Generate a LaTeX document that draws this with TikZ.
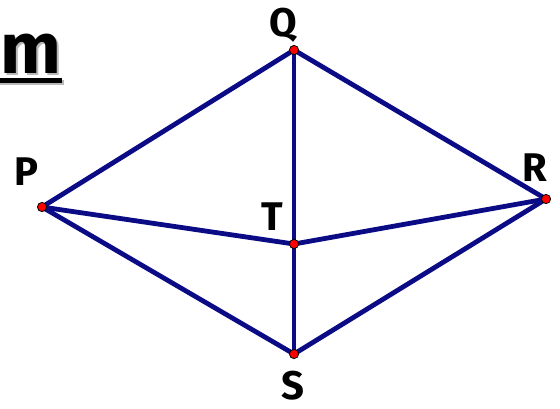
\documentclass[tikz,border=0pt]{standalone}
\usepackage{fontspec}
\setsansfont{Fira Sans}
\usepackage{tikz}
\usetikzlibrary{positioning}
\definecolor{kitenavy}{HTML}{0B0B85}
\definecolor{dotred}{HTML}{FF0000}
\definecolor{shadowgray}{HTML}{B8B8B8}

\tikzset{
  edge/.style={kitenavy, line width=2.4pt, line join=round, line cap=round},
  vertex/.style={fill=dotred, draw=black, line width=0.4pt},
  ptlabel/.style={font=\sffamily\bfseries\fontsize{20}{22}\selectfont, inner sep=0pt}
}

\begin{document}
\begin{tikzpicture}[x=0.5pt, y=-0.5pt]
  \useasboundingbox (0,0) rectangle (560,408);
  % title fragment
  \node[text=shadowgray, anchor=base east, inner sep=0pt, font=\sffamily\bfseries\fontsize{36}{36}\selectfont] (titleshadow) at (64,75) {m};
  \node[anchor=base east, inner sep=0pt, font=\sffamily\bfseries\fontsize{36}{36}\selectfont] (title) at (62,73) {m};
  \fill[shadowgray] (0,80) rectangle (64,85);
  \fill[black] (0,78) rectangle (62,83);
  % points
  \coordinate (P) at (42,207);
  \coordinate (Q) at (294,50);
  \coordinate (R) at (546,199);
  \coordinate (S) at (294,354);
  \coordinate (T) at (294,244);
  \draw[edge] (P) -- (Q) -- (R) -- (S) -- cycle;
  \draw[edge] (Q) -- (S);
  \draw[edge] (P) -- (T) -- (R);
  \foreach \pt in {P,Q,R,S,T} {
    \filldraw[vertex] (\pt) circle (2.3pt);
  }
  \node[ptlabel] (labQ) at (283,25) {Q};
  \node[ptlabel] (labP) at (26,172) {P};
  \node[ptlabel] (labR) at (535,168) {R};
  \node[ptlabel] (labT) at (272,217) {T};
  \node[ptlabel] (labS) at (293,386) {S};
\end{tikzpicture}
\end{document}
